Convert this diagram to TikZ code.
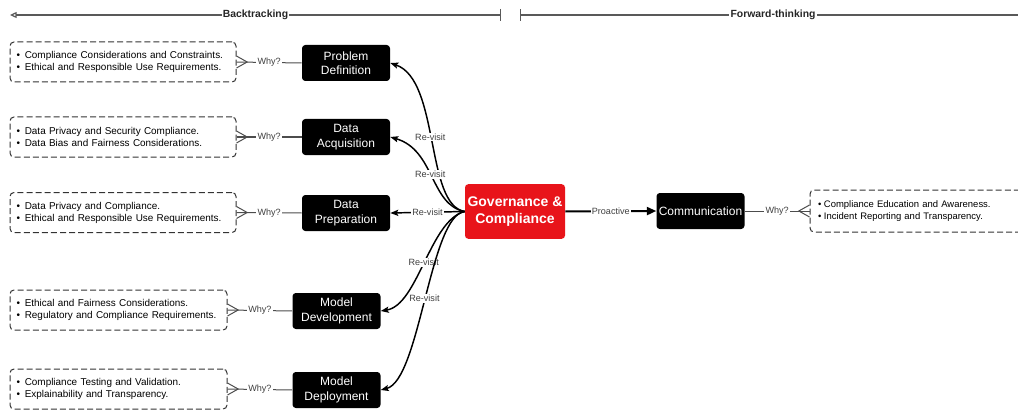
\documentclass[tikz,border=0pt]{standalone}
\usepackage{fontspec}
\setmainfont{Liberation Sans}
\usetikzlibrary{arrows.meta}
\definecolor{govred}{HTML}{E8141A}
\newcommand\bitem{•\hspace{3.5pt}}
\newcommand\bitemr{•\hspace{2pt}}
\begin{document}
\begin{tikzpicture}[x=0.75pt,y=-0.75pt,
  blk/.style={fill=black, text=white, rounded corners=2.5pt, align=center, inner sep=0pt,
    minimum width=66pt, minimum height=27pt, font=\fontsize{9}{10.8}\selectfont},
  gov/.style={fill=govred, text=white, rounded corners=2.5pt, align=center, inner sep=0pt,
    minimum width=75pt, minimum height=41pt, font=\fontsize{10.5}{12.5}\selectfont\bfseries},
  dbox/.style={draw=black!80, line width=0.75pt, dash pattern=on 4.5pt off 2.3pt, rounded corners=3pt,
    align=left, inner xsep=5pt, inner ysep=0pt, minimum height=30pt, text width=#1,
    font=\fontsize{7.45}{9}\selectfont},
  lbl/.style={fill=white, inner sep=0.8pt, text=black!75, font=\fontsize{6.8}{8}\selectfont},
  hdr/.style={fill=white, inner sep=0.8pt, text=black!85, font=\fontsize{7.8}{9}\selectfont\bfseries},
  why/.style={draw=black!70, line width=0.75pt},
  revisit/.style={draw=black, line width=1.1pt, -{Stealth[length=6pt,width=4.6pt,inset=1.2pt]}},
  hline/.style={draw=black!65, line width=0.9pt}
]
\useasboundingbox (0,0) rectangle (1018,410);

% header
\coordinate (bl) at (10,15);
\coordinate (br) at (501,15);
\coordinate (fl) at (520,15);
\coordinate (fr) at (1026,15);
\draw[hline, {Triangle[open,length=5pt,width=4.5pt]}-{Bar[width=9pt]}] (bl) -- (br) node[midway,hdr] (bt) {Backtracking};
\draw[hline, {Bar[width=9pt]}-] (fl) -- (fr) node[midway,hdr] (ft) {Forward-thinking};

% black nodes
\node[blk] (pd) at (346,63) {Problem\\Definition};
\node[blk] (da) at (346,137) {Data\\Acquisition};
\node[blk] (dp) at (346,213) {Data\\Preparation};
\node[blk] (md) at (336.5,311) {Model\\Development};
\node[blk] (mdp) at (336.5,390) {Model\\Deployment};
\node[gov] (gc) at (515,211.5) {Governance \&\\Compliance};
\node[blk] (cm) at (700.5,211) {Communication};

% dashed boxes
\node[dbox=159.5pt] (b1) at (123,62) {\bitem Compliance Considerations and Constraints.\\\bitem Ethical and Responsible Use Requirements.};
\node[dbox=159.5pt] (b2) at (123,137) {\bitem Data Privacy and Security Compliance.\\\bitem Data Bias and Fairness Considerations.};
\node[dbox=159.5pt] (b3) at (123,212.5) {\bitem Data Privacy and Compliance.\\\bitem Ethical and Responsible Use Requirements.};
\node[dbox=152.75pt] (b4) at (118.5,310) {\bitem Ethical and Fairness Considerations.\\\bitem Regulatory and Compliance Requirements.};
\node[dbox=152.75pt] (b5) at (118.5,389) {\bitem Compliance Testing and Validation.\\\bitem Explainability and Transparency.};
\node[dbox=162pt, inner xsep=6pt, minimum height=31.5pt, font=\fontsize{7.1}{9}\selectfont] (b6) at (926,211) {\bitemr Compliance Education and Awareness.\\\bitemr Incident Reporting and Transparency.};

% why connectors with crow's feet
\foreach \b/\n in {b1/pd, b2/da, b3/dp, b4/md, b5/mdp} {
  \draw[why] (\b.east) -- (\n.west) node[midway,lbl] {Why?};
  \draw[why] ([yshift=4.5pt]\b.east) -- ([xshift=8pt]\b.east) -- ([yshift=-4.5pt]\b.east);
}
\draw[why] (cm.east) -- (b6.west) node[midway,lbl] {Why?};
\draw[why] ([yshift=4.5pt]b6.west) -- ([xshift=-8pt]b6.west) -- ([yshift=-4.5pt]b6.west);

% re-visit curves
\draw[revisit] (gc.west) .. controls (425,205) and (440,80) .. (pd.east) node[pos=0.52,lbl] {Re-visit};
\draw[revisit] (gc.west) .. controls (430,205) and (435,150) .. (da.east) node[pos=0.52,lbl] {Re-visit};
\draw[revisit] (gc.west) -- (dp.east) node[midway,lbl] {Re-visit};
\draw[revisit] (gc.west) .. controls (430,220) and (418,305) .. (md.east) node[pos=0.5,lbl] {Re-visit};
\draw[revisit] (gc.west) .. controls (430,215) and (420,380) .. (mdp.east) node[pos=0.5,lbl] {Re-visit};

% proactive
\draw[draw=black, line width=1.5pt, -{Triangle[length=7pt,width=6pt]}] (gc.east) -- (cm.west) node[midway,lbl] {Proactive};
\end{tikzpicture}
\end{document}
